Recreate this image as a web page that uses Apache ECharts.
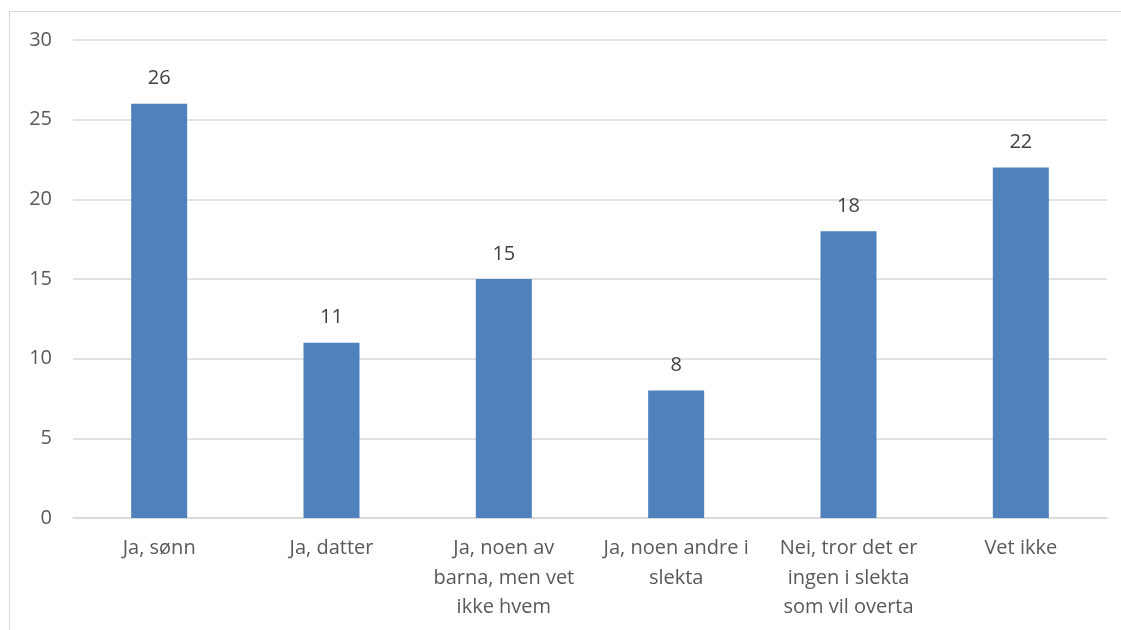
<!DOCTYPE html>
<html>
<head>
<meta charset="utf-8">
<script src="https://cdn.jsdelivr.net/npm/echarts@6/dist/echarts.min.js"></script>
<style>
    html, body { margin: 0; padding: 0; background: #fff; overflow: hidden; }
    #frame {
        position: absolute;
        left: 9px;
        top: 11px;
        width: 1200px;
        height: 700px;
        border-left: 1px solid #d9d9d9;
        border-top: 1px solid #d9d9d9;
    }
    #chart { position: absolute; left: 0; top: 0; width: 1121px; height: 630px; }
</style>
</head>
<body>
<div id="frame"></div>
<div id="chart"></div>
<script>
    var categories = ['Ja, sønn', 'Ja, datter', 'Ja, noen av\nbarna, men vet\nikke hvem', 'Ja, noen andre i\nslekta', 'Nei, tror det er\ningen i slekta\nsom vil overta', 'Vet ikke'];
    var values = [26, 11, 15, 8, 18, 22];
    var yTicks = [0, 5, 10, 15, 20, 25, 30];

    var myChart = echarts.init(document.getElementById('chart'));
    var textColor = '#595959';
    var font = '"Open Sans", "Noto Sans", sans-serif';

    var option = {
        animation: false,
        grid: {
            left: 73,
            right: 14,
            top: 40,
            bottom: 112,
            containLabel: false
        },
        xAxis: {
            type: 'category',
            data: categories,
            axisTick: { show: false },
            axisLine: { lineStyle: { color: '#d9d9d9', width: 1.5 } },
            axisLabel: {
                color: textColor,
                fontFamily: font,
                fontSize: 20,
                lineHeight: 29.5,
                margin: 16,
                interval: 0
            }
        },
        yAxis: {
            type: 'value',
            min: yTicks[0],
            max: yTicks[yTicks.length - 1],
            interval: 5,
            axisLine: { show: false },
            axisTick: { show: false },
            splitLine: { lineStyle: { color: '#d9d9d9', width: 1.5 } },
            axisLabel: {
                color: textColor,
                fontFamily: font,
                fontSize: 20,
                margin: 21
            }
        },
        series: [
            {
                type: 'bar',
                data: values,
                barWidth: 56,
                itemStyle: { color: '#4f81bd' },
                label: {
                    show: true,
                    position: 'top',
                    distance: 15,
                    color: '#404040',
                    fontFamily: font,
                    fontSize: 20
                }
            }
        ]
    };

    myChart.setOption(option);
</script>
</body>
</html>
